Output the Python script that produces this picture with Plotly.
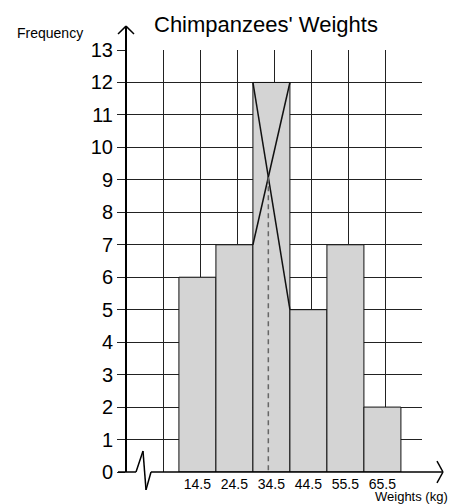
import plotly.graph_objects as go

# ---- data ----
class_labels = ["14.5", "24.5", "34.5", "44.5", "55.5", "65.5"]
frequencies = [6, 7, 12, 5, 7, 2]
title_text = "Chimpanzees' Weights"
y_title = "Frequency"
x_title = "Weights (kg)"

# ---- geometry (pixels) ----
W, H = 451, 504
L, T = 126, 50
R = W - 422
B = H - 474
PW, PH = W - L - R, H - T - B
X_MAX, Y_MAX = 8, 13
first_center = 1.93   # bar centre of first class on grid units

def px(xp):  # pixel x -> paper
    return (xp - L) / PW

def py(yp):  # pixel y -> paper
    return (H - B - yp) / PH

centers = [first_center + i for i in range(len(frequencies))]

fig = go.Figure()
fig.add_trace(go.Bar(
    x=centers, y=frequencies, width=1.0,
    marker=dict(color="#d4d4d4", line=dict(color="#111", width=1)),
    hoverinfo="skip", xaxis="x", yaxis="y",
))

# modal class construction lines
m = frequencies.index(max(frequencies))
lft, rgt = centers[m] - 0.5, centers[m] + 0.5
f_prev, f_mod, f_next = frequencies[m - 1], frequencies[m], frequencies[m + 1]
fig.add_trace(go.Scatter(x=[lft, rgt], y=[f_mod, f_next], mode="lines",
                         line=dict(color="#111", width=1.5), hoverinfo="skip"))
fig.add_trace(go.Scatter(x=[rgt, lft], y=[f_mod, f_prev], mode="lines",
                         line=dict(color="#111", width=1.5), hoverinfo="skip"))
t = (f_mod - f_prev) / ((f_mod - f_prev) + (f_mod - f_next))
xm = lft + t
ym = f_mod - (f_mod - f_next) * t
fig.add_trace(go.Scatter(x=[xm, xm], y=[ym, 0], mode="lines",
                         line=dict(color="#666", width=1.5, dash="5px,4px"), hoverinfo="skip"))

# axis decorations (pixel based)
shapes = []
def seg(x0, y0, x1, y1, w=1.5):
    shapes.append(dict(type="line", xref="paper", yref="paper",
                       x0=px(x0), y0=py(y0), x1=px(x1), y1=py(y1),
                       line=dict(color="black", width=w)))
# y axis with arrow
seg(126, 474, 126, 26, 2)
seg(118, 34, 126, 26, 1.5)
seg(134, 34, 126, 26, 1.5)
# x axis with break and arrow
seg(118, 474, 136, 474, 1.5)
seg(136, 474, 143, 453, 1.5)
seg(143, 453, 146, 492, 1.5)
seg(146, 492, 151, 474, 1.5)
seg(151, 474, 442, 474, 1.5)
seg(437, 463, 443, 474, 1.5)
seg(437, 485, 443, 474, 1.5)

annotations = [
    dict(text=title_text, xref="paper", yref="paper", x=px(266), y=py(24),
         xanchor="center", yanchor="middle",
         showarrow=False, font=dict(size=22, color="black")),
    dict(text=y_title, xref="paper", yref="paper", x=px(50), y=py(33),
         xanchor="center", yanchor="middle",
         showarrow=False, font=dict(size=14, color="black")),
    dict(text=x_title, xref="paper", yref="paper", x=px(411), y=py(498.5),
         xanchor="center", yanchor="middle", borderpad=0,
         showarrow=False, font=dict(size=13, color="black")),
]

fig.update_layout(
    width=W, height=H,
    margin=dict(l=L, r=R, t=T, b=B),
    paper_bgcolor="white", plot_bgcolor="white",
    showlegend=False,
    font=dict(family="Liberation Sans, Arial, sans-serif", color="black"),
    shapes=shapes, annotations=annotations,
    xaxis=dict(range=[0, X_MAX], dtick=1, tick0=0, showgrid=True, gridcolor="#222",
               gridwidth=1, showticklabels=False, ticks="", zeroline=False,
               showline=False, fixedrange=True),
    xaxis2=dict(range=[0, X_MAX], overlaying="x", anchor="y", side="bottom",
                tickmode="array", tickvals=centers, ticktext=class_labels,
                showgrid=False, zeroline=False, ticks="", showline=False,
                tickfont=dict(size=14), ticklabelstandoff=2, fixedrange=True),
    yaxis=dict(range=[0, Y_MAX], dtick=1, tick0=0, showgrid=True, gridcolor="#222",
               gridwidth=1, ticks="outside", ticklen=8, tickcolor="#222",
               tickfont=dict(size=20), zeroline=False, showline=False,
               fixedrange=True),
)
fig.add_trace(go.Scatter(x=centers, y=[None] * len(centers), xaxis="x2",
                         yaxis="y", hoverinfo="skip", showlegend=False))

fig.write_html(
    "out.html",
    config={"displayModeBar": False, "staticPlot": True},
    post_script="document.body.style.margin='0';document.body.style.overflow='hidden';",
)
